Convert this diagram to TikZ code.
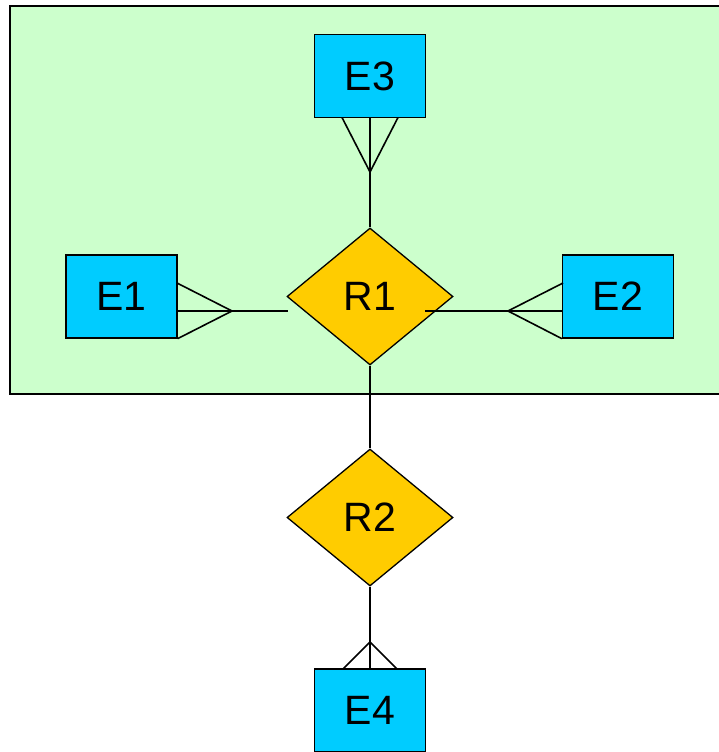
\documentclass[tikz,border=0pt]{standalone}
\usepackage{fontspec}
\setmainfont{Liberation Sans}
\usetikzlibrary{shapes.geometric}
\definecolor{bggreen}{HTML}{CCFFCC}
\definecolor{entblue}{HTML}{00CCFF}
\definecolor{relgold}{HTML}{FFCC00}
\tikzset{
  ent/.style={draw=black, fill=entblue, line width=1.3pt, minimum width=111pt, minimum height=83pt, inner sep=0pt, font=\fontsize{41}{43}\selectfont},
  rel/.style={diamond, draw=black, fill=relgold, line width=1.3pt, aspect=1.21, minimum width=166pt, minimum height=137pt, inner sep=0pt, font=\fontsize{41}{43}\selectfont},
  conn/.style={draw=black, line width=1.6pt},
}
\begin{document}
\begin{tikzpicture}[x=1pt, y=-1pt]
\useasboundingbox (0,0) rectangle (719,752);
\clip (0,0) rectangle (719,752);
% background panel
\fill[bggreen] (10,6.5) rectangle (740,393.5);
\draw[line width=2pt] (740,6.5) -- (10,6.5) -- (10,393.5) -- (740,393.5);
% nodes
\node[ent] (E3) at (370,76) {E3};
\node[ent] (E1) at (121.5,296.5) {E1};
\node[ent] (E2) at (618,296.5) {E2};
\node[ent] (E4) at (370,710.5) {E4};
\node[rel] (R1) at (370,296.5) {R1};
\node[rel] (R2) at (370,517.5) {R2};
% helper coordinates
\coordinate (c1) at (232,311);
\coordinate (e1t) at (177,283);
\coordinate (e1m) at (177,311);
\coordinate (r1l) at (288,311);
\coordinate (c2) at (508,311);
\coordinate (e2t) at (563,283);
\coordinate (e2m) at (563,311);
\coordinate (r1r) at (425,311);
\coordinate (c3) at (370,172);
\coordinate (e3l) at (342,117.5);
\coordinate (e3r) at (398,117.5);
\coordinate (c4) at (370,642);
\coordinate (e4l) at (343,669);
\coordinate (e4r) at (397,669);
% E1 -- R1
\draw[conn] (e1t) -- (c1) -- (E1.south east);
\draw[conn] (e1m) -- (r1l);
% R1 -- E2
\draw[conn] (r1r) -- (e2m);
\draw[conn] (e2t) -- (c2) -- (E2.south west);
% E3 -- R1
\draw[conn] (E3.south) -- (R1.north);
\draw[conn] (e3l) -- (c3) -- (e3r);
% R1 -- R2
\draw[conn] (R1.south) -- (R2.north);
% R2 -- E4
\draw[conn] (R2.south) -- (E4.north);
\draw[conn] (e4l) -- (c4) -- (e4r);
\end{tikzpicture}
\end{document}
